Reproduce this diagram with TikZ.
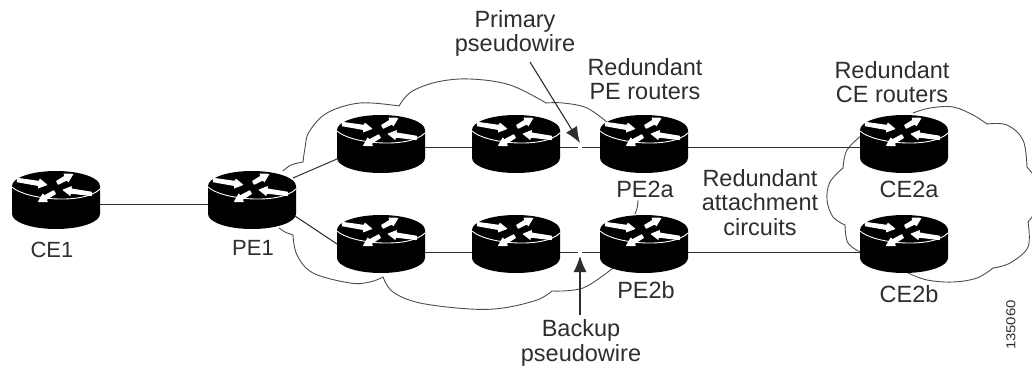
\documentclass[tikz,border=0pt]{standalone}
\usepackage{fontspec}
\usetikzlibrary{arrows.meta}
\setmainfont{Liberation Sans}
\definecolor{ink}{HTML}{2E2E2E}
\tikzset{
  x=1pt,y=-1pt,
  hub/.style={inner sep=0pt,outer sep=0pt,minimum width=88pt,minimum height=0pt,text height=0pt,text depth=0pt},
  link/.style={draw=ink,line width=1pt},
  cloudline/.style={draw=ink!85,line width=0.9pt,line cap=round,line join=round},
  lbl/.style={font=\fontsize{23.5}{24.5}\selectfont,text=ink,inner sep=0pt,outer sep=0pt,align=center},
  lblsmall/.style={lbl,font=\fontsize{22}{24.5}\selectfont},
  pointer/.style={draw=ink,line width=1.1pt},
  whead/.style={fill=white},
}
\newcommand{\whitearrow}[4]{%
  \fill[whead,shift={(#1,#2)},rotate=#3,rounded corners=0.6pt] (0,-2.2) -- (#4-9,-2.6) -- (#4-9,-5.2) -- (#4,0) -- (#4-9,5.2) -- (#4-9,2.6) -- (0,2.2) -- cycle;}
\newcommand{\router}[4]{%
  \begin{scope}[shift={(#2,#3)}]
    \fill[black] (-44,0) -- (-44,28) arc[start angle=180,end angle=360,x radius=44,y radius=-15] -- (44,0) arc[start angle=0,end angle=180,x radius=44,y radius=-15] -- cycle;
    \draw[white,line width=0.9pt] (-44,1) .. controls (-30,14) and (28,19) .. (44,3);
    \whitearrow{-39}{-6}{-9}{31}
    \whitearrow{1}{-3}{29}{19}
    \whitearrow{36}{8}{172}{30}
    \whitearrow{-1}{6}{210}{20}
  \end{scope}
  \node[hub] (#1) at (#2,#4) {};}
\begin{document}
\begin{tikzpicture}
\useasboundingbox (0,0) rectangle (1032,366);
% clouds
\draw[cloudline] plot[smooth,tension=0.6] coordinates {(283,171) (291,165) (303,162)};
\draw[cloudline] plot[smooth,tension=0.6] coordinates {(303,162) (305,148) (309,132) (327,113) (360,103) (399,106)};
\draw[cloudline] plot[smooth,tension=0.6] coordinates {(399,106) (411,92) (437,82) (470,79) (510,85) (546,103)};
\draw[cloudline] plot[smooth,tension=0.6] coordinates {(546,103) (563,103) (587,108) (608,123)};
\draw[cloudline] plot[smooth,tension=0.6] coordinates {(613,268) (583,288) (552,291)};
\draw[cloudline] plot[smooth,tension=0.6] coordinates {(552,291) (537,300) (503,308) (470,309) (420,303) (393,292) (383,277)};
\draw[cloudline] plot[smooth,tension=0.6] coordinates {(383,277) (370,282) (350,283) (313,273) (297,255) (293,235)};
\draw[cloudline] plot[smooth,tension=0.6] coordinates {(293,235) (285,232) (279,228)};
\draw[cloudline] plot[smooth,tension=0.6] coordinates {(913,113) (930,108) (953,107) (973,115) (987,124)};
\draw[cloudline] plot[smooth,tension=0.6] coordinates {(987,124) (1007,125) (1023,140) (1027,167)};
\draw[cloudline] plot[smooth,tension=0.6] coordinates {(1027,167) (1032,173) (1036,178)};
\draw[cloudline] plot[smooth,tension=0.6] coordinates {(1036,210) (1032,217) (1028,222)};
\draw[cloudline] plot[smooth,tension=0.6] coordinates {(1028,222) (1028,247) (1010,263) (993,268)};
\draw[cloudline] plot[smooth,tension=0.6] coordinates {(993,268) (977,278) (953,282) (927,280) (908,273)};
\draw[cloudline] plot[smooth,tension=0.6] coordinates {(862,135) (847,150) (843,168)};
\draw[cloudline] plot[smooth,tension=0.6] coordinates {(843,168) (830,182) (827,200) (833,217) (845,225)};
\draw[cloudline] plot[smooth,tension=0.6] coordinates {(845,225) (848,243) (862,253)};
% routers
\router{ce1}{56}{186}{204}
\router{pe1}{252}{186}{204}
\router{ra}{381}{130}{148}
\router{rb}{516}{130}{148}
\router{pea}{644}{130}{148}
\router{cea}{904}{130}{148}
\router{rc}{381}{230}{252}
\router{rd}{516}{230}{252}
\router{peb}{644}{230}{252}
\router{ceb}{904}{230}{252}
% connector end points
\coordinate (pe1up) at (293,178);
\coordinate (raleft) at (337,159);
\coordinate (pe1down) at (295,216);
\coordinate (rcleft) at (337,244);
\coordinate (gapal) at (578,148);
\coordinate (gapar) at (582,148);
\coordinate (gapbl) at (578,252);
\coordinate (gapbr) at (582,252);
% connectors
\draw[link] (ce1.east) -- (pe1.west);
\draw[link] (pe1up) -- (raleft);
\draw[link] (pe1down) -- (rcleft);
\draw[link] (ra.east) -- (rb.west);
\draw[link] (rb.east) -- (gapal);
\draw[link] (gapar) -- (pea.west);
\draw[link] (rc.east) -- (rd.west);
\draw[link] (rd.east) -- (gapbl);
\draw[link] (gapbr) -- (peb.west);
\draw[link] (pea.east) -- (cea.west);
\draw[link] (peb.east) -- (ceb.west);
% labels
\node[lblsmall,anchor=base] (lce1) at (52,257) {CE1};
\node[lblsmall,anchor=base] (lpe1) at (253,255) {PE1};
\node[lbl,anchor=base] (lpea) at (645,197) {PE2a};
\node[lbl,anchor=base] (lpeb) at (646,298) {PE2b};
\node[lbl,anchor=base] (lcea) at (909,197) {CE2a};
\node[lbl,anchor=base] (lceb) at (909,302) {CE2b};
\node[lbl,anchor=base] (lprim) at (515,52) {Primary\\pseudowire};
\node[lbl,anchor=base] (lback) at (581,361) {Backup\\pseudowire};
\node[lbl,anchor=base] (lrpe) at (645,100) {Redundant\\PE routers};
\node[lbl,anchor=base] (lrce) at (892,103) {Redundant\\CE routers};
\node[lbl,anchor=base] (lrac) at (760,235) {Redundant\\attachment\\circuits};
\node[font=\fontsize{13}{13}\selectfont,text=ink,inner sep=0pt,rotate=90,xscale=1.15] (lnum) at (1011,325) {135060};
% pointers
\coordinate (ptail) at (530,62);
\coordinate (ptip) at (580,143);
\coordinate (btail) at (580,315);
\coordinate (btip) at (580,256);
\draw[pointer,-{Latex[length=16pt,width=13pt]}] (ptail) -- (ptip);
\draw[pointer,-{Latex[length=16pt,width=13pt]}] (btail) -- (btip);
\coordinate (tick1) at (638,200);
\coordinate (tick2) at (635,214);
\draw[cloudline] (tick1) .. controls (638,205) and (637,210) .. (tick2);
\end{tikzpicture}
\end{document}
